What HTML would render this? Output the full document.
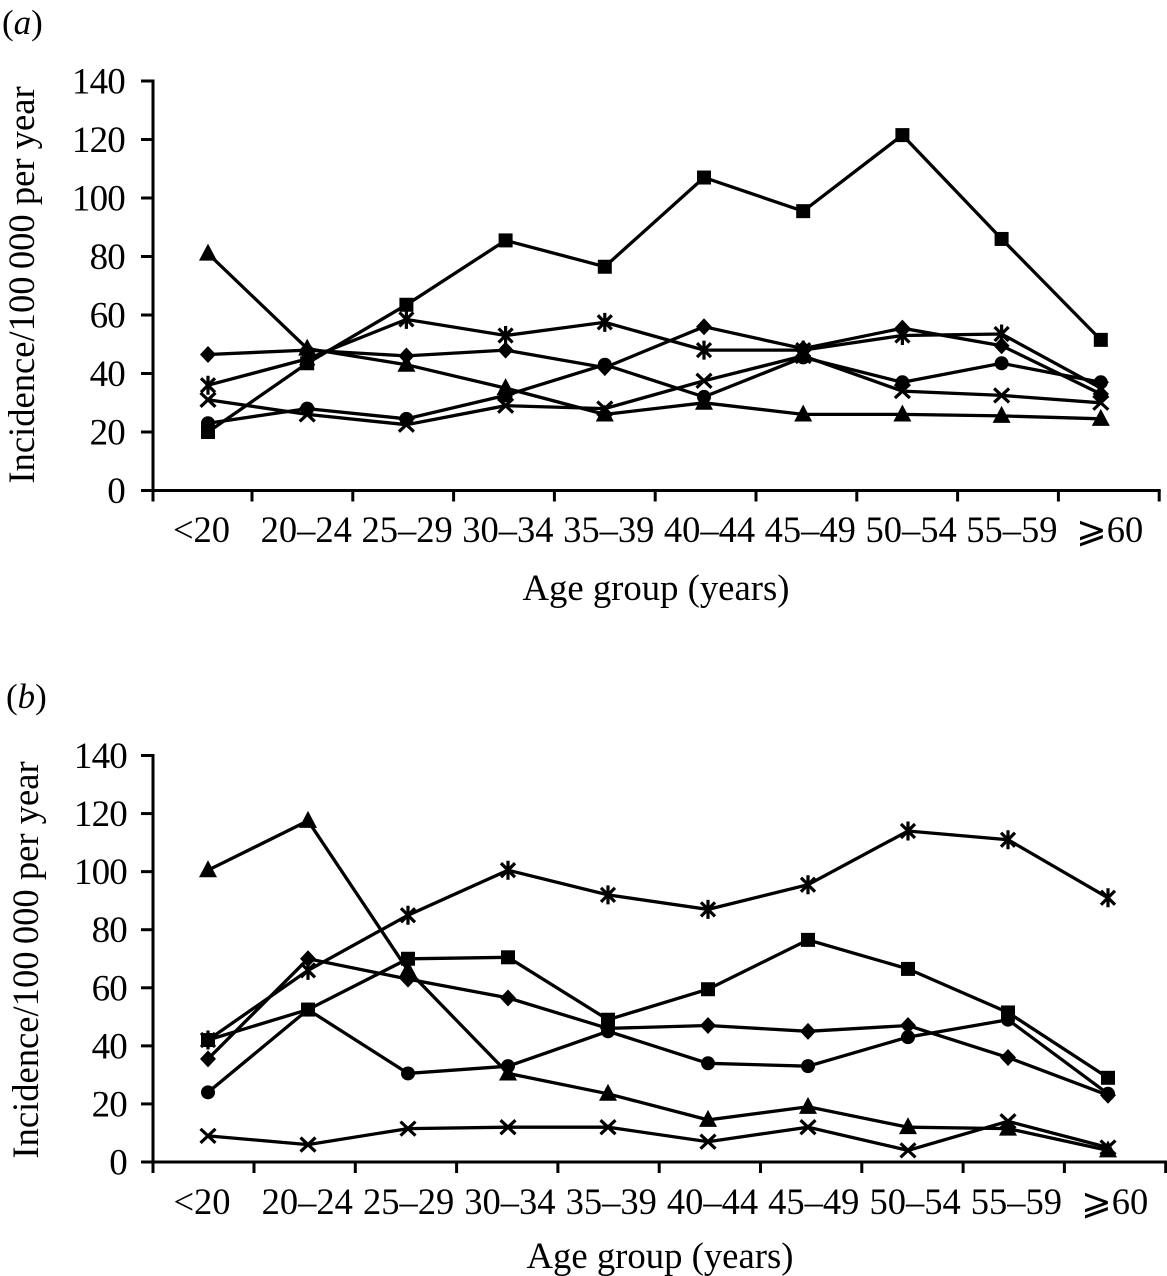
<!DOCTYPE html>
<html>
<head>
<meta charset="utf-8">
<title>Incidence per 100 000 per year by age group</title>
<style>
html,body{margin:0;padding:0;background:#fff;width:1167px;height:1276px;overflow:hidden}
svg{display:block}
text{font-family:"Liberation Serif","DejaVu Serif",serif;fill:#000}
</style>
</head>
<body>
<svg id="figure" width="1167" height="1276" viewBox="0 0 1167 1276" xmlns="http://www.w3.org/2000/svg">
<rect x="0" y="0" width="1167" height="1276" fill="#fff"/>
<text x="2" y="34" font-size="35">(<tspan font-style="italic">a</tspan>)</text>
<text x="6" y="708" font-size="35">(<tspan font-style="italic">b</tspan>)</text>
<g id="panel-a"></g>
<g id="panel-b"></g>
</svg>
<script>
var categories = ['<20','20–24','25–29','30–34','35–39','40–44','45–49','50–54','55–59','⩾60'];
var yTicks = [0,20,40,60,80,100,120,140];
var yTitle = 'Incidence/100\u2009000 per year';
var xTitle = 'Age group (years)';

var aSquare   = [20,43.5,63.5,85.5,76.5,107,95.5,121.5,86,51.5];
var aTriangle = [81,48.5,43,35,26,30,26,26,25.5,24.5];
var aDiamond  = [46.5,48,46,48,42,56,48.5,55.5,49.5,33];
var aStar     = [36,45,58.5,53,57.5,48,48,53,53.5,35];
var aCircle   = [23,28,24.5,32.5,43,32,45.5,37,43.5,37];
var aCross    = [31,26,22.5,29,28,37.5,46,34,32.5,30];

var bTriangle = [100.5,117.5,66,30.5,23.5,14.5,19,12,11.5,4];
var bStar     = [42,66,85,100.5,92,87,95.5,114,111,91];
var bSquare   = [42,52.5,70,70.5,49,59.5,76.5,66.5,51.5,29];
var bDiamond  = [35.5,70,63,56.5,46,47,45,47,36,23];
var bCircle   = [24,52.5,30.5,33,45,34,33,43,49,23.5];
var bCross    = [9,6,11.5,12,12,7,12,4,14,5];

var NS = 'http://www.w3.org/2000/svg';
function make(parent, tag, attrs, txt){
  var el = document.createElementNS(NS, tag);
  for (var k in attrs) el.setAttribute(k, attrs[k]);
  if (txt !== undefined) el.textContent = txt;
  parent.appendChild(el);
  return el;
}
function drawMarker(g, kind, cx, cy){
  var el;
  if (kind === 'square') {
    el = make(g,'rect',{x:cx-7,y:cy-7,width:14,height:14,fill:'#000'});
  } else if (kind === 'triangle') {
    el = make(g,'path',{d:'M'+cx+' '+(cy-10)+'L'+(cx+9)+' '+(cy+7)+'L'+(cx-9)+' '+(cy+7)+'Z',fill:'#000'});
  } else if (kind === 'diamond') {
    el = make(g,'path',{d:'M'+cx+' '+(cy-8.5)+'L'+(cx+8)+' '+cy+'L'+cx+' '+(cy+8.5)+'L'+(cx-8)+' '+cy+'Z',fill:'#000'});
  } else if (kind === 'circle') {
    el = make(g,'circle',{cx:cx,cy:cy,r:7,fill:'#000'});
  } else if (kind === 'cross') {
    el = make(g,'path',{d:'M'+(cx-7.5)+' '+(cy-7)+'L'+(cx+7.5)+' '+(cy+7)+'M'+(cx+7.5)+' '+(cy-7)+'L'+(cx-7.5)+' '+(cy+7),stroke:'#000','stroke-width':3.2,fill:'none'});
  } else {
    el = make(g,'path',{d:'M'+(cx-7)+' '+(cy-7)+'L'+(cx+7)+' '+(cy+7)+'M'+(cx+7)+' '+(cy-7)+'L'+(cx-7)+' '+(cy+7)+'M'+cx+' '+(cy-9.5)+'L'+cx+' '+(cy+9.5),stroke:'#000','stroke-width':3.2,fill:'none'});
  }
  
  
}
function drawPanel(id, p, series){
  var root = document.getElementById(id);
  function xScale(i){ return p.pointStart + p.pointStep * i; }
  function yScale(v){ return p.y0 + (p.y140 - p.y0) * v / 140; }
  function tickX(i){ return i === 0 ? p.axisX : p.tick1 + p.tickStep * (i - 1); }
  function labelX(i){
    var nudge = i === 0 ? -4 : (i === categories.length - 1 ? -3 : 0);
    return p.labelStart + p.tickStep * i + nudge;
  }

  series.forEach(function(s){
    var g = make(root,'g',{});
    
    
    var pts = s.values.map(function(v,i){ return xScale(i).toFixed(1)+','+yScale(v).toFixed(1); }).join(' ');
    var line = make(g,'polyline',{points:pts,fill:'none',stroke:'#000','stroke-width':3.3,'stroke-linejoin':'miter'});
    
    
    s.values.forEach(function(v,i){ drawMarker(g, s.kind, xScale(i), yScale(v)); });
  });

  var yAxis = make(root,'line',{x1:p.axisX,x2:p.axisX,y1:yScale(140)-1.5,y2:p.y0+1.5,stroke:'#000','stroke-width':3});
  
  
  var xAxis = make(root,'line',{x1:p.axisX-1,x2:tickX(10)+1.5,y1:p.y0,y2:p.y0,stroke:'#000','stroke-width':3});
  
  

  yTicks.forEach(function(v){
    var t = make(root,'line',{x1:p.axisX-12,x2:p.axisX,y1:yScale(v),y2:yScale(v),stroke:'#000','stroke-width':3});
    
    
    var l = make(root,'text',{x:p.yLabelX,y:yScale(v)+12.5,'font-size':37,'letter-spacing':-0.8,'text-anchor':'end'},String(v));
    
    
  });
  for (var i = 0; i <= categories.length; i++) {
    var t = make(root,'line',{x1:tickX(i),x2:tickX(i),y1:p.y0,y2:p.y0+11,stroke:'#000','stroke-width':3});
    
    
  }
  categories.forEach(function(c,i){
    var l = make(root,'text',{x:labelX(i),y:p.labelY,'font-size':36.5,'text-anchor':'middle'},c);
    
    
  });
  var xt = make(root,'text',{x:p.xTitleX,y:p.xTitleY,'font-size':36.7,'text-anchor':'middle'},xTitle);
  
  
  var yt = make(root,'text',{x:0,y:0,'font-size':36.6,'text-anchor':'middle',transform:'translate('+p.yTitleX+' '+p.yTitleY+') rotate(-90)'},yTitle);
  
  
}
drawPanel('panel-a',
  {axisX:153,tick1:252,tickStep:100.8,pointStart:208,pointStep:99.2,y0:490.5,y140:81,yLabelX:125,labelStart:205.5,labelY:542,xTitleX:656,xTitleY:600,yTitleX:34,yTitleY:285},
  [{kind:'square',values:aSquare},{kind:'triangle',values:aTriangle},{kind:'diamond',values:aDiamond},{kind:'star',values:aStar},{kind:'circle',values:aCircle},{kind:'cross',values:aCross}]);
drawPanel('panel-b',
  {axisX:153,tick1:254,tickStep:101.3,pointStart:208,pointStep:100,y0:1162,y140:755.5,yLabelX:127,labelStart:206,labelY:1214,xTitleX:660,xTitleY:1268,yTitleX:38,yTitleY:960},
  [{kind:'triangle',values:bTriangle},{kind:'star',values:bStar},{kind:'square',values:bSquare},{kind:'diamond',values:bDiamond},{kind:'circle',values:bCircle},{kind:'cross',values:bCross}]);
</script>
</body>
</html>
